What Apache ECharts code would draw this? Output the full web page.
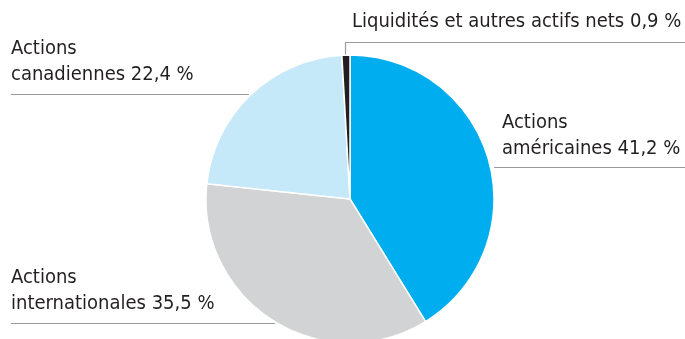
<!DOCTYPE html>
<html>
<head>
<meta charset="utf-8">
<script src="https://cdn.jsdelivr.net/npm/echarts@6/dist/echarts.min.js"></script>
<style>
  html, body { margin: 0; padding: 0; background: #ffffff; }
  #chart { width: 685px; height: 339px; }
</style>
</head>
<body>
<div id="chart"></div>
<script>
// Asset allocation, clockwise from 12 o'clock
const categories = [
  'Actions\naméricaines',
  'Actions\ninternationales',
  'Actions\ncanadiennes',
  'Liquidités et autres actifs nets'
];
const values = [41.2, 35.5, 22.4, 0.9];
const colors = ['#00adee', '#d1d3d4', '#c6e9f9', '#231f20'];

const fmt = v => v.toFixed(1).replace('.', ',') + ' %';

const chart = echarts.init(document.getElementById('chart'), null, { renderer: 'canvas' });

const CX = 350, CY = 199, R = 144;
const FONT = '"DejaVu Sans Condensed", "Liberation Sans Narrow", "Roboto", sans-serif';

// label anchor (left/bottom of text) and underline route for each slice
const labelPlacement = [
  { x: 502, y: 162, line: [[494, 167.5], [685, 167.5]] },
  { x: 11, y: 317, line: [[11, 323.5], [275, 323.5]] },
  { x: 11, y: 88, line: [[11, 94.5], [249, 94.5]] },
  { x: 352, y: 35, line: [[345.5, 55], [345.5, 42.5], [685, 42.5]] }
];

chart.setOption({
  animation: false,
  series: [{
    type: 'pie',
    center: [CX, CY],
    radius: [0, R],
    startAngle: 90,
    clockwise: true,
    avoidLabelOverlap: false,
    itemStyle: { borderColor: '#ffffff', borderWidth: 1.5 },
    label: {
      show: true,
      formatter: p => p.name + ' ' + fmt(p.value),
      color: '#231f20',
      fontFamily: FONT,
      fontSize: 20,
      lineHeight: 26
    },
    labelLine: {
      show: true,
      lineStyle: { color: '#9a9a9a', width: 1.2 }
    },
    labelLayout: params => {
      const p = labelPlacement[params.dataIndex];
      return {
        x: p.x,
        y: p.y,
        align: 'left',
        verticalAlign: 'bottom',
        labelLinePoints: p.line
      };
    },
    data: categories.map((name, i) => ({
      name: name,
      value: values[i],
      itemStyle: { color: colors[i] }
    }))
  }]
});
</script>
</body>
</html>
